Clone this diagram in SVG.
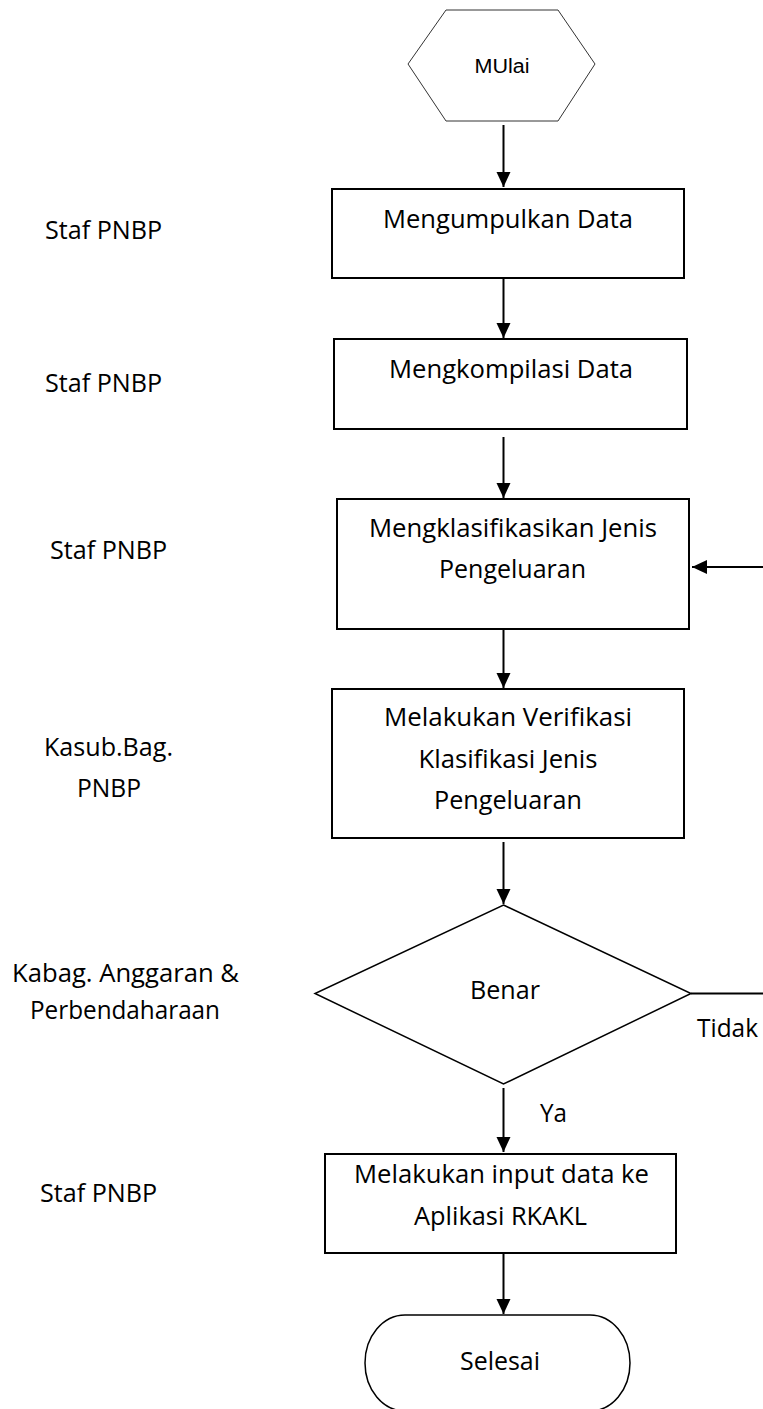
<svg xmlns="http://www.w3.org/2000/svg" width="763" height="1409" viewBox="0 0 763 1409">
  <style>
    .box { fill: #ffffff; stroke: #000000; stroke-width: 2; }
    .thin { fill: #ffffff; stroke: #000000; stroke-width: 1.5; }
    .hex { fill: #ffffff; stroke: #333333; stroke-width: 1; }
    .lbl { font-family: "Open Sans", "Noto Sans", sans-serif; font-size: 25.5px; fill: #000000; text-anchor: middle; }
    .start { font-family: "Liberation Sans", Arial, sans-serif; font-size: 20px; fill: #000000; text-anchor: middle; }
    .conn { fill: none; stroke: #000000; stroke-width: 2; }
  </style>
  <defs>
    <marker id="arrow" markerUnits="userSpaceOnUse" markerWidth="15" markerHeight="15" refX="15" refY="7.5" orient="auto">
      <path d="M0,0.5 L15,7.5 L0,14.5 z" fill="#000000"/>
    </marker>
  </defs>

  <rect width="763" height="1409" fill="#ffffff"/>

  <!-- role labels on the left -->
  <g id="roles">
    <text class="lbl" x="103.5" y="239" textLength="117" lengthAdjust="spacingAndGlyphs">Staf PNBP</text>
    <text class="lbl" x="103.5" y="392" textLength="117" lengthAdjust="spacingAndGlyphs">Staf PNBP</text>
    <text class="lbl" x="108.5" y="559" textLength="117" lengthAdjust="spacingAndGlyphs">Staf PNBP</text>
    <text class="lbl" x="108.5" y="756" textLength="129" lengthAdjust="spacingAndGlyphs">Kasub.Bag.</text>
    <text class="lbl" x="109" y="797" textLength="64" lengthAdjust="spacingAndGlyphs">PNBP</text>
    <text class="lbl" x="125.5" y="982" textLength="227" lengthAdjust="spacingAndGlyphs">Kabag. Anggaran &amp;</text>
    <text class="lbl" x="125" y="1019" textLength="190" lengthAdjust="spacingAndGlyphs">Perbendaharaan</text>
    <text class="lbl" x="98.5" y="1202" textLength="117" lengthAdjust="spacingAndGlyphs">Staf PNBP</text>
  </g>

  <!-- connectors -->
  <g id="connectors">
    <line class="conn" x1="503.5" y1="125" x2="503.5" y2="187" marker-end="url(#arrow)"/>
    <line class="conn" x1="503.5" y1="279" x2="503.5" y2="338" marker-end="url(#arrow)"/>
    <line class="conn" x1="503.5" y1="437" x2="503.5" y2="498" marker-end="url(#arrow)"/>
    <line class="conn" x1="503.5" y1="630" x2="503.5" y2="688" marker-end="url(#arrow)"/>
    <line class="conn" x1="503.5" y1="842" x2="503.5" y2="904" marker-end="url(#arrow)"/>
    <line class="conn" x1="503.5" y1="1088" x2="503.5" y2="1152" marker-end="url(#arrow)"/>
    <line class="conn" x1="503.5" y1="1254" x2="503.5" y2="1314" marker-end="url(#arrow)"/>
    <!-- "Tidak" loop back to the classification step (runs along the right edge) -->
    <path class="conn" d="M691,993.5 H766 V567 H692" stroke-width="1.5" marker-end="url(#arrow)"/>
    <text class="lbl" x="727.5" y="1037" textLength="61" lengthAdjust="spacingAndGlyphs">Tidak</text>
    <text class="lbl" x="553.5" y="1122" textLength="27" lengthAdjust="spacingAndGlyphs">Ya</text>
  </g>

  <g id="mulai">
    <polygon class="hex" points="446,10 558,10 595,64 558,121 446,121 408,64"/>
    <text class="start" x="502" y="73" textLength="55" lengthAdjust="spacingAndGlyphs">MUlai</text>
  </g>

  <g id="mengumpulkan">
    <rect class="box" x="332" y="189" width="352" height="89"/>
    <text class="lbl" x="508" y="228" textLength="250" lengthAdjust="spacingAndGlyphs">Mengumpulkan Data</text>
  </g>

  <g id="mengkompilasi">
    <rect class="box" x="334" y="339" width="353" height="90"/>
    <text class="lbl" x="511" y="378" textLength="244" lengthAdjust="spacingAndGlyphs">Mengkompilasi Data</text>
  </g>

  <g id="mengklasifikasikan">
    <rect class="box" x="337" y="499" width="352" height="130"/>
    <text class="lbl" x="513" y="537" textLength="288" lengthAdjust="spacingAndGlyphs">Mengklasifikasikan Jenis</text>
    <text class="lbl" x="512.5" y="578" textLength="147" lengthAdjust="spacingAndGlyphs">Pengeluaran</text>
  </g>

  <g id="verifikasi">
    <rect class="box" x="332" y="689" width="352" height="149"/>
    <text class="lbl" x="508" y="726" textLength="248" lengthAdjust="spacingAndGlyphs">Melakukan Verifikasi</text>
    <text class="lbl" x="508" y="768" textLength="179" lengthAdjust="spacingAndGlyphs">Klasifikasi Jenis</text>
    <text class="lbl" x="508" y="809" textLength="148" lengthAdjust="spacingAndGlyphs">Pengeluaran</text>
  </g>

  <g id="benar">
    <polygon class="thin" points="503.5,905 691,993.5 503.5,1084 315,993.5"/>
    <text class="lbl" x="505" y="999" textLength="70" lengthAdjust="spacingAndGlyphs">Benar</text>
  </g>

  <g id="input-rkakl">
    <rect class="box" x="325" y="1154" width="351" height="99"/>
    <text class="lbl" x="501.5" y="1183" textLength="295" lengthAdjust="spacingAndGlyphs">Melakukan input data ke</text>
    <text class="lbl" x="500.5" y="1225" textLength="173" lengthAdjust="spacingAndGlyphs">Aplikasi RKAKL</text>
  </g>

  <g id="selesai">
    <rect class="thin" x="365" y="1315" width="265" height="96" rx="40" ry="48"/>
    <text class="lbl" x="500" y="1370" textLength="80" lengthAdjust="spacingAndGlyphs">Selesai</text>
  </g>
</svg>
